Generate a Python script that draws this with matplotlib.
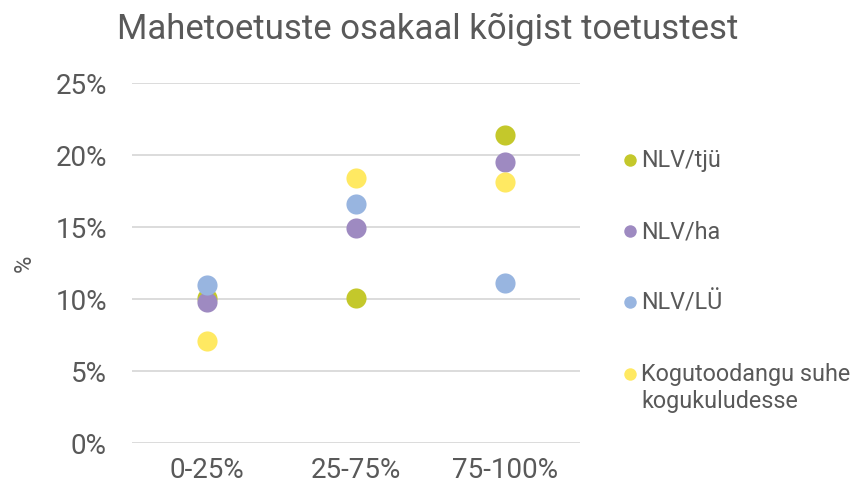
import numpy as np
import matplotlib.pyplot as plt
from matplotlib.ticker import FuncFormatter

plt.rcParams['font.family'] = ['Roboto', 'DejaVu Sans']

# Data
categories = ['0-25%', '25-75%', '75-100%']
series_names = ['NLV/tjü', 'NLV/ha', 'NLV/LÜ', 'Kogutoodangu suhe\nkogukuludesse']
nlv_tju = [10.1, 10.1, 21.4]
nlv_ha = [9.8, 14.9, 19.5]
nlv_lu = [11.0, 16.6, 11.1]
kogu = [7.1, 18.4, 18.1]
colors = ['#c4c82b', '#9e8ac1', '#98b5e0', '#ffe962']

fig = plt.figure(figsize=(8.56, 4.94), dpi=100)
ax = fig.add_axes([132/856, 51/494, 448/856, 360/494])

x = np.arange(len(categories)) + 0.5
for vals, name, c in zip([nlv_tju, nlv_ha, nlv_lu, kogu], series_names, colors):
    ax.scatter(x, vals, s=210, color=c, label=name, zorder=3, linewidths=0)

ax.set_xlim(0, 3)
ax.set_ylim(0, 25)
ax.set_yticks(np.arange(0, 26, 5))
ax.yaxis.set_major_formatter(FuncFormatter(lambda v, p: f'{v:.0f}%'))
ax.set_xticks(x)
ax.set_xticklabels(categories)
ax.grid(axis='y', color='#d9d9d9', linewidth=1.3, zorder=0)
for s in ax.spines.values():
    s.set_visible(False)
ax.tick_params(length=0, labelsize=20, colors='#595959', pad=18)
ax.tick_params(axis='x', pad=10)
ax.set_ylabel('%', fontsize=17, color='#595959', labelpad=14)

fig.suptitle('Mahetoetuste osakaal kõigist toetustest', fontsize=25, color='#595959', y=0.975)

leg = ax.legend(loc='upper left', bbox_to_anchor=(598/856, 1 - 128/494),
                bbox_transform=fig.transFigure, frameon=False, fontsize=16.8,
                labelspacing=2.07, handletextpad=0.05, handlelength=0.9,
                handleheight=1.1, markerscale=0.62)
for t in leg.get_texts():
    t.set_color('#595959')
# keep the marker next to the first line of a two-line label
for col in leg._legend_handle_box.get_children():
    for row in col.get_children():
        row.align = 'top'

fig.savefig('out.png', dpi=100)
